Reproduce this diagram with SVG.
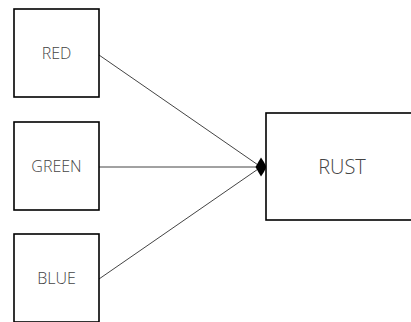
<svg xmlns="http://www.w3.org/2000/svg" width="411" height="322" viewBox="0 0 411 322">
<style>
.box{fill:#fff;stroke:#000;stroke-width:1.6}
.lbl{font-family:"Open Sans","Liberation Sans",sans-serif;font-size:16px;font-weight:300;fill:#444;text-anchor:middle}
.big{font-size:20px}
.edge{stroke:#444;stroke-width:1;fill:none}
.head{fill:#000}
</style>
<rect width="411" height="322" fill="#fff"/>
<g id="connectors">
<line class="edge" x1="99" y1="55" x2="261" y2="167"/>
<line class="edge" x1="99" y1="167" x2="261" y2="167"/>
<line class="edge" x1="99" y1="279" x2="261" y2="167"/>
<path class="head" d="M255.5,167 Q258.5,161.5 261,157.5 Q264,161.5 266.5,167 Q264,172.5 261,176.5 Q258.5,172.5 255.5,167Z"/>
</g>
<g id="red"><rect class="box" x="14" y="9" width="85" height="88"/><text class="lbl" x="56.5" y="59">RED</text></g>
<g id="green"><rect class="box" x="14" y="122" width="85" height="88"/><text class="lbl" x="56.5" y="172">GREEN</text></g>
<g id="blue"><rect class="box" x="14" y="234" width="85" height="88"/><text class="lbl" x="56.5" y="284">BLUE</text></g>
<g id="rust"><rect class="box" x="266" y="113" width="152" height="107"/><text class="lbl big" x="342" y="174">RUST</text></g>
</svg>
